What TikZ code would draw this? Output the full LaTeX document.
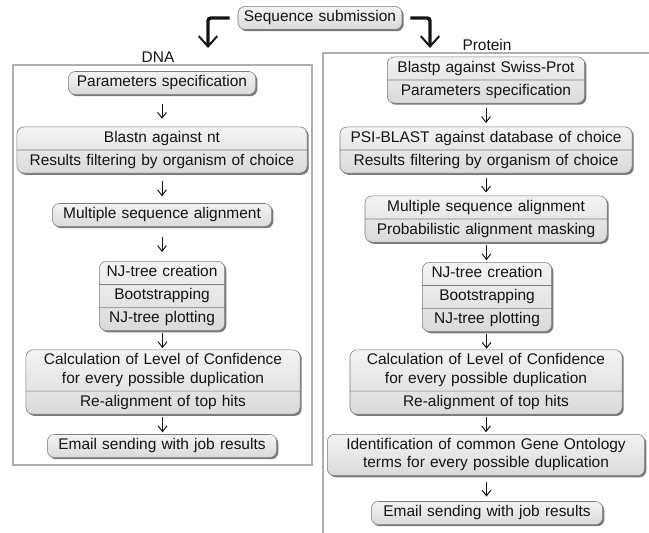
\documentclass[tikz,border=0pt]{standalone}
\usepackage{fontspec}
\setmainfont{Liberation Sans}
\usetikzlibrary{arrows.meta,shapes.multipart,shadows,calc}
\definecolor{boxline}{RGB}{125,125,125}
\definecolor{boxtop}{RGB}{243,243,243}
\definecolor{boxbot}{RGB}{218,218,218}
\definecolor{frame}{RGB}{175,175,175}
\definecolor{ink}{RGB}{20,20,20}
\tikzset{
  >={Straight Barb[length=1.4mm,width=2.2mm]},
  stage/.style={rectangle split,rectangle split parts=#1,draw=boxline,
    top color=boxtop,bottom color=boxbot,rounded corners=5pt,thin,
    inner xsep=0pt,inner ysep=1.5pt,align=center,text=ink,
    font=\fontsize{11}{13}\selectfont,
    execute at begin node=\strut,execute at end node=\strut,
    drop shadow={shadow xshift=1.2pt,shadow yshift=-1.2pt,opacity=0.7,fill=black!75}},
  stage/.default=1,
  panel/.style={draw=frame,line width=1.6pt},
  heading/.style={font=\fontsize{11}{13}\selectfont,text=ink},
  flow/.style={->,draw=ink,line width=0.7pt},
  branch/.style={-{Straight Barb[length=2.6mm,width=4.6mm,line width=1.4pt]},
    line width=2.4pt,draw=ink,shorten <=2mm,rounded corners=2pt},
}
\begin{document}
\begin{tikzpicture}[x=0.025cm,y=-0.025cm]
  \useasboundingbox (0,0) rectangle (649,532);
  % frames of both branches
  \draw[panel] (13,65) rectangle (312,465);
  \draw[panel] (323,53) rectangle (680,560);
  \node[heading] (dna) at (158,57) {DNA};
  \node[heading] (prot) at (487,45) {Protein};

  \node[stage,text width=4.1cm] (sub) at (320,18) {Sequence submission};

  % DNA branch
  \node[stage,text width=4.68cm] (d1) at (162,83) {Parameters specification};
  \node[stage=2,text width=7.25cm] (d2) at (162,150) {Blastn against nt\nodepart{two}Results filtering by organism of choice};
  \node[stage,text width=5.48cm] (d3) at (162,215) {Multiple sequence alignment};
  \node[stage=3,text width=3.13cm] (d4) at (162,296) {NJ-tree creation\nodepart{two}Bootstrapping\nodepart{three}NJ-tree plotting};
  \node[stage=2,text width=6.85cm] (d5) at (163,382) {Calculation of Level of Confidence\\for every possible duplication\nodepart{two}Re-alignment of top hits};
  \node[stage,text width=5.73cm] (d6) at (162,446) {Email sending with job results};

  % Protein branch
  \node[stage=2,text width=4.93cm] (p1) at (486,80) {Blastp against Swiss-Prot\nodepart{two}Parameters specification};
  \node[stage=2,text width=7.3cm] (p2) at (486,150) {PSI-BLAST against database of choice\nodepart{two}Results filtering by organism of choice};
  \node[stage=2,text width=6.05cm] (p3) at (486,219) {Multiple sequence alignment\nodepart{two}Probabilistic alignment masking};
  \node[stage=3,text width=3.23cm] (p4) at (487,297) {NJ-tree creation\nodepart{two}Bootstrapping\nodepart{three}NJ-tree plotting};
  \node[stage=2,text width=6.8cm] (p5) at (486,382) {Calculation of Level of Confidence\\for every possible duplication\nodepart{two}Re-alignment of top hits};
  \node[stage,text width=7.93cm] (p6) at (486,455) {Identification of common Gene Ontology\\terms for every possible duplication};
  \node[stage,text width=5.78cm] (p7) at (487,513) {Email sending with job results};

  % split arrows
  \coordinate (dnaIn) at (208,48);
  \coordinate (protIn) at (430,48);
  \draw[branch] (sub.west) -| (dnaIn);
  \draw[branch] (sub.east) -| (protIn);

  \foreach \a/\b in {d1/d2,d2/d3,d3/d4,d4/d5,d5/d6,p1/p2,p2/p3,p3/p4,p4/p5,p5/p6,p6/p7}
    \draw[flow] ($(\a.south)!.5!(\b.north)+(0,-7)$) -- ($(\a.south)!.5!(\b.north)+(0,8)$);
\end{tikzpicture}
\end{document}
